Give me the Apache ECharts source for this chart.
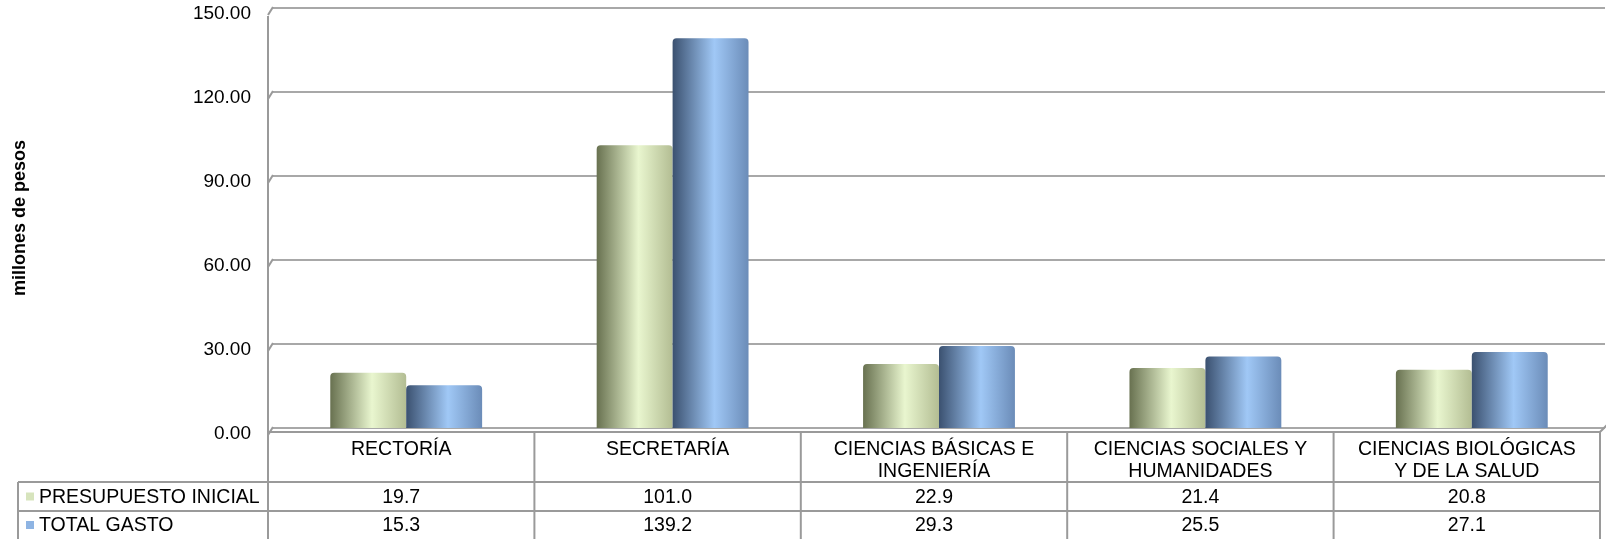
<!DOCTYPE html>
<html>
<head>
<meta charset="utf-8">
<script src="https://cdn.jsdelivr.net/npm/echarts@6/dist/echarts.min.js"></script>
<style>
html, body { margin: 0; padding: 0; background: #fff; }
#main { width: 1606px; height: 539px; }
</style>
</head>
<body>
<div id="main"></div>
<script>
// datos (millones de pesos)
var categories = ['RECTORÍA', 'SECRETARÍA', 'CIENCIAS BÁSICAS E\nINGENIERÍA', 'CIENCIAS SOCIALES Y\nHUMANIDADES', 'CIENCIAS BIOLÓGICAS\nY DE LA SALUD'];
var seriesNames = ['PRESUPUESTO INICIAL', 'TOTAL GASTO'];
var presupuestoInicial = [19.7, 101.0, 22.9, 21.4, 20.8];
var totalGasto = [15.3, 139.2, 29.3, 25.5, 27.1];
var yMin = 0, yMax = 150, yStep = 30;

var FONT = 'Liberation Sans, Arial, sans-serif';
var lineCol = '#9a9a9a';

function cyl(dark, light, right) {
    // degradado horizontal tipo cilindro
    return new echarts.graphic.LinearGradient(0, 0, 1, 0, [
        {offset: 0, color: dark},
        {offset: 0.55, color: light},
        {offset: 1, color: right}
    ]);
}

var chart = echarts.init(document.getElementById('main'));
chart.setOption({
    animation: false,
    grid: {left: 273, right: 1, top: 8, bottom: 111},
    xAxis: {
        type: 'category',
        data: categories,
        axisLine: {show: false},
        axisTick: {show: false},
        axisLabel: {show: false}
    },
    yAxis: {
        type: 'value',
        min: yMin,
        max: yMax,
        interval: yStep,
        name: 'millones de pesos',
        nameLocation: 'middle',
        nameGap: 244,
        nameRotate: 90,
        nameTextStyle: {fontFamily: FONT, fontSize: 18, fontWeight: 'bold', color: '#000'},
        axisLine: {show: false},
        axisTick: {show: false},
        axisLabel: {
            fontFamily: FONT, fontSize: 19, color: '#000', margin: 22,
            verticalAlign: 'top', lineHeight: 12,
            formatter: function (v) { return v.toFixed(2); }
        },
        splitLine: {lineStyle: {color: '#a8a8a8', width: 2}}
    },
    series: [
        {
            name: seriesNames[0],
            type: 'bar',
            data: presupuestoInicial,
            barGap: '0%',
            barCategoryGap: '43%',
            itemStyle: {color: cyl('#687150', '#e9f6cf', '#b3bd93'), borderRadius: [4, 4, 0, 0]}
        },
        {
            name: seriesNames[1],
            type: 'bar',
            data: totalGasto,
            itemStyle: {color: cyl('#3b5170', '#a0c8f6', '#6b8cb8'), borderRadius: [4, 4, 0, 0]}
        }
    ]
});

// tabla de datos y bordes en perspectiva
function drawExtras() {
    var els = [];
    var x0 = chart.convertToPixel({xAxisIndex: 0}, 0);
    var x1 = chart.convertToPixel({xAxisIndex: 0}, 1);
    var colW = x1 - x0;
    var wallLeft = x0 - colW / 2;
    var tableLeft = wallLeft - 5;
    var tableRight = tableLeft + colW * categories.length;
    var yZero = chart.convertToPixel({yAxisIndex: 0}, 0);
    var yTop = chart.convertToPixel({yAxisIndex: 0}, yMax);
    var floorY = yZero + 4;
    var legendLeft = 18;
    var row1 = floorY + 50, row2 = row1 + 29, row3 = 539;

    function line(ax, ay, bx, by, w) {
        els.push({type: 'line', silent: true, shape: {x1: ax, y1: ay, x2: bx, y2: by},
            style: {stroke: lineCol, lineWidth: w || 2}});
    }
    function text(t, x, y, align) {
        els.push({type: 'text', silent: true, style: {text: t, x: x, y: y, textAlign: align || 'center',
            textVerticalAlign: 'middle', font: '19.5px ' + FONT, fill: '#000'}});
    }

    // pared izquierda
    line(tableLeft, yTop + 8, tableLeft, floorY);
    for (var v = yMin; v <= yMax; v += yStep) {
        var py = chart.convertToPixel({yAxisIndex: 0}, v);
        line(tableLeft, py + 7, wallLeft, py - 1);
    }
    // piso
    line(tableLeft, floorY, tableRight, floorY);
    line(tableRight, floorY, tableRight + 7, yZero - 3);

    // tabla
    line(legendLeft, row1, tableRight, row1);
    line(legendLeft, row2, tableRight, row2);
    line(legendLeft, row1, legendLeft, row3);
    for (var i = 0; i <= categories.length; i++) {
        line(tableLeft + i * colW, floorY, tableLeft + i * colW, row3);
    }
    categories.forEach(function (c, i) {
        var cx = tableLeft + (i + 0.5) * colW;
        c.split('\n').forEach(function (ln, k) {
            text(ln, cx, floorY + 18 + k * 22);
        });
        text(presupuestoInicial[i].toFixed(1), cx, (row1 + row2) / 2 + 1);
        text(totalGasto[i].toFixed(1), cx, (row2 + row3) / 2 + 1);
    });
    // leyenda dentro de la tabla
    var legendCols = ['#d7e4bd', '#8eb4e3'];
    [row1, row2].forEach(function (r, k) {
        var cy = k === 0 ? (row1 + row2) / 2 : (row2 + row3) / 2;
        els.push({type: 'rect', silent: true, shape: {x: legendLeft + 8, y: cy - 4, width: 8, height: 8},
            style: {fill: legendCols[k]}});
        text(seriesNames[k], legendLeft + 21, cy + 1, 'left');
    });

    chart.setOption({graphic: {elements: els}});
}
drawExtras();
</script>
</body>
</html>
